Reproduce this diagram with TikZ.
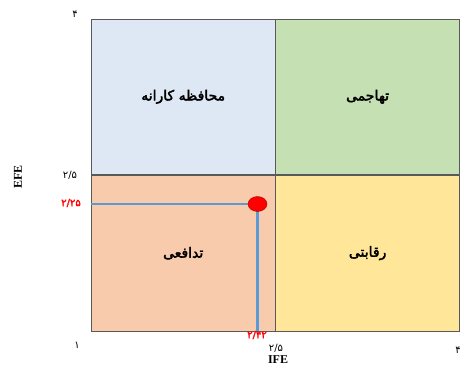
\documentclass[tikz,border=0pt]{standalone}
\usepackage{fontspec}
\setmainfont{Liberation Serif}
\newfontfamily\farsi[Script=Arabic, AutoFakeBold=2.5]{DejaVu Sans}
\TeXXeTstate=1
\usetikzlibrary{positioning,shapes.geometric}

\definecolor{cautious}{HTML}{DEE8F4}
\definecolor{aggressive}{HTML}{C5E0B3}
\definecolor{defensive}{HTML}{F8CBAD}
\definecolor{competitive}{HTML}{FFE699}
\definecolor{guideblue}{HTML}{5B9BD5}

\begin{document}
\begin{tikzpicture}[
    x=1pt, y=1pt,
    quad/.style={draw=black!65, line width=0.9pt, rectangle, anchor=south west,
        minimum width=183.5pt, minimum height=155.5pt, inner sep=0pt,
        font=\farsi\bfseries\fontsize{14}{16}\selectfont},
    tick/.style={font=\farsi\fontsize{10}{11}\selectfont, inner sep=1pt},
    hit/.style={tick, text=red, font=\farsi\bfseries\fontsize{10}{11}\selectfont},
    axis/.style={font=\bfseries\fontsize{12}{14}\selectfont, inner sep=1pt},
    guide/.style={draw=guideblue, line width=2.4pt}
]
\useasboundingbox (0,0) rectangle (462,367);

% quadrants
\node[quad, fill=cautious] (cons) at (91,192) {\beginR محافظه کارانه\endR};
\node[quad, fill=aggressive, right=0pt of cons] (aggr) {\beginR تهاجمی\endR};
\node[quad, fill=defensive, anchor=north west] (defn) at (cons.south west) {\beginR تدافعی\endR};
\node[quad, fill=competitive, right=0pt of defn] (comp) {\beginR رقابتی\endR};

% axis ticks
\node[tick] (ytop) at (75,353) {۴};
\node[tick] (ymid) at (70,192) {۲/۵};
\node[tick] (ymin) at (77,22) {۱};
\node[tick] (xmid) at (276,19) {۲/۵};
\node[tick] (xmax) at (458,17) {۴};
\node[axis] (ife) at (278,7) {IFE};
\node[axis, rotate=90] (efe) at (18,190) {EFE};

% position of the firm
\node[hit] (yval) at (71,164) {۲/۲۵};
\node[hit] (xval) at (257,32) {۲/۴۲};
\coordinate (firmc) at (257.5,163);
\coordinate (yhit) at (91,163);
\coordinate (xhit) at (257.5,36);
\draw[guide] (yhit) -- (firmc);
\draw[guide] (xhit) -- (firmc);
\node[draw=red!70!black, fill=red, ellipse, minimum width=19pt, minimum height=15pt, inner sep=0pt] (firm) at (firmc) {};

\end{tikzpicture}
\end{document}
